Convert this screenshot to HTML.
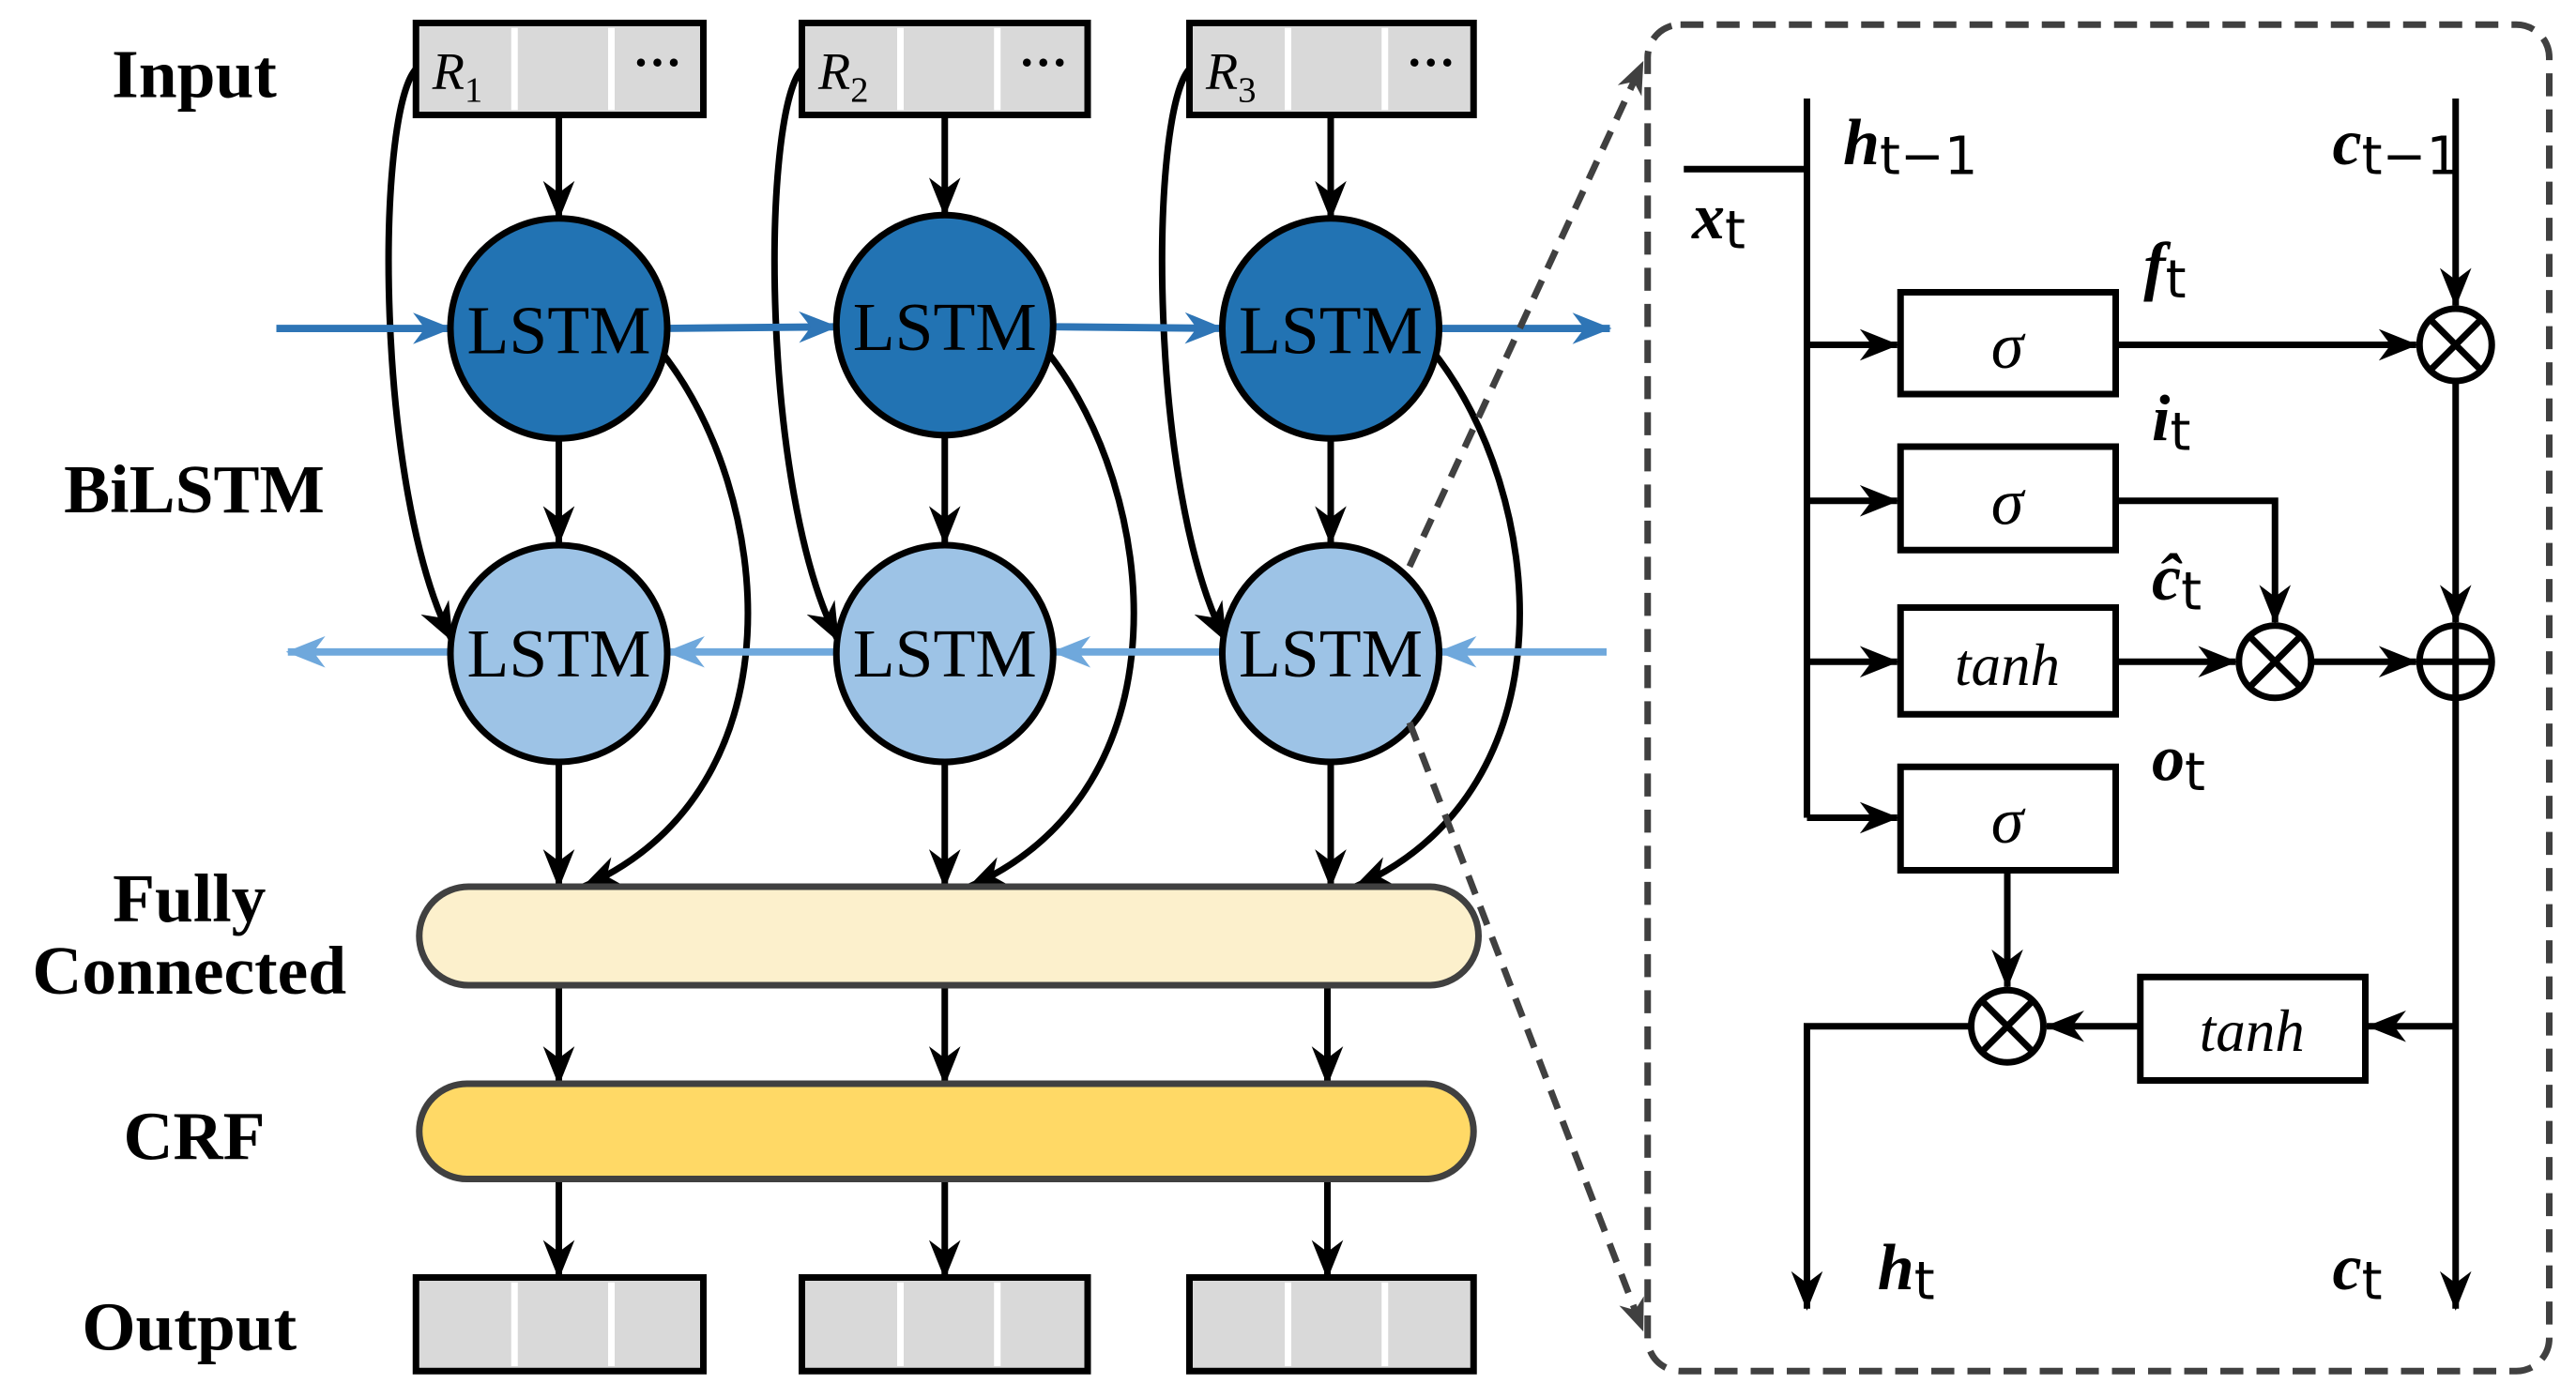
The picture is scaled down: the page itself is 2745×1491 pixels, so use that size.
<!DOCTYPE html>
<html><head><meta charset="utf-8"><style>
html,body{margin:0;padding:0;background:#fff;}
svg{display:block;}
text{font-family:"Liberation Serif",serif;}
</style></head><body>
<svg width="2745" height="1491" viewBox="0 0 1568 852" xmlns="http://www.w3.org/2000/svg">
<defs>
<marker id="a" viewBox="0 0 20 16" refX="19" refY="8" markerWidth="24" markerHeight="20" orient="auto" markerUnits="userSpaceOnUse"><path d="M0,0 L20,8 L0,16 L6,8 Z" fill="#000"/></marker>
<marker id="ab" viewBox="0 0 20 16" refX="19" refY="8" markerWidth="24" markerHeight="20" orient="auto" markerUnits="userSpaceOnUse"><path d="M0,0 L20,8 L0,16 L6,8 Z" fill="#2e75b6"/></marker>
<marker id="al" viewBox="0 0 20 16" refX="19" refY="8" markerWidth="24" markerHeight="20" orient="auto" markerUnits="userSpaceOnUse"><path d="M0,0 L20,8 L0,16 L6,8 Z" fill="#6fa8dc"/></marker>
<marker id="ad" viewBox="0 0 20 16" refX="19" refY="8" markerWidth="20" markerHeight="16" orient="auto" markerUnits="userSpaceOnUse"><path d="M0,0 L20,8 L0,16 L6,8 Z" fill="#404040"/></marker>
</defs>

<g font-weight="bold" font-size="42" text-anchor="middle" fill="#000">
<text x="118" y="59">Input</text>
<text x="118" y="312">BiLSTM</text>
<text x="115" y="561">Fully</text>
<text x="115" y="605">Connected</text>
<text x="118" y="706">CRF</text>
<text x="115" y="822">Output</text>
</g>

<g>
<g transform="translate(253,14)">
<rect x="0" y="0" width="175" height="56" fill="#d9d9d9" stroke="#000" stroke-width="4"/>
<line x1="60" y1="3" x2="60" y2="53" stroke="#fff" stroke-width="4"/>
<line x1="119" y1="3" x2="119" y2="53" stroke="#fff" stroke-width="4"/>
<text x="10" y="40" font-size="32" font-style="italic">R<tspan font-size="22" dy="8" font-style="normal">1</tspan></text>
<text x="147" y="34" font-size="30" text-anchor="middle" font-weight="bold">···</text>
</g>
<g transform="translate(488,14)">
<rect x="0" y="0" width="174" height="56" fill="#d9d9d9" stroke="#000" stroke-width="4"/>
<line x1="60" y1="3" x2="60" y2="53" stroke="#fff" stroke-width="4"/>
<line x1="119" y1="3" x2="119" y2="53" stroke="#fff" stroke-width="4"/>
<text x="10" y="40" font-size="32" font-style="italic">R<tspan font-size="22" dy="8" font-style="normal">2</tspan></text>
<text x="147" y="34" font-size="30" text-anchor="middle" font-weight="bold">···</text>
</g>
<g transform="translate(724,14)">
<rect x="0" y="0" width="173" height="56" fill="#d9d9d9" stroke="#000" stroke-width="4"/>
<line x1="60" y1="3" x2="60" y2="53" stroke="#fff" stroke-width="4"/>
<line x1="119" y1="3" x2="119" y2="53" stroke="#fff" stroke-width="4"/>
<text x="10" y="40" font-size="32" font-style="italic">R<tspan font-size="22" dy="8" font-style="normal">3</tspan></text>
<text x="147" y="34" font-size="30" text-anchor="middle" font-weight="bold">···</text>
</g>
</g>

<g>
<rect x="253" y="778" width="175" height="57" fill="#d9d9d9" stroke="#000" stroke-width="4"/>
<line x1="313" y1="781" x2="313" y2="832" stroke="#fff" stroke-width="4"/><line x1="372" y1="781" x2="372" y2="832" stroke="#fff" stroke-width="4"/>
<rect x="488" y="778" width="174" height="57" fill="#d9d9d9" stroke="#000" stroke-width="4"/>
<line x1="548" y1="781" x2="548" y2="832" stroke="#fff" stroke-width="4"/><line x1="607" y1="781" x2="607" y2="832" stroke="#fff" stroke-width="4"/>
<rect x="724" y="778" width="173" height="57" fill="#d9d9d9" stroke="#000" stroke-width="4"/>
<line x1="784" y1="781" x2="784" y2="832" stroke="#fff" stroke-width="4"/><line x1="843" y1="781" x2="843" y2="832" stroke="#fff" stroke-width="4"/>
</g>

<g stroke="#000" stroke-width="4" fill="none" marker-end="url(#a)">
<line x1="340" y1="72" x2="340" y2="133"/>
<line x1="575" y1="72" x2="575" y2="131"/>
<line x1="810" y1="72" x2="810" y2="133"/>
<line x1="340" y1="267" x2="340" y2="331"/>
<line x1="575" y1="265" x2="575" y2="331"/>
<line x1="810" y1="267" x2="810" y2="331"/>
<line x1="340" y1="465" x2="340" y2="540"/>
<line x1="575" y1="465" x2="575" y2="540"/>
<line x1="810" y1="465" x2="810" y2="540"/>
<line x1="340" y1="602" x2="340" y2="660"/>
<line x1="575" y1="602" x2="575" y2="660"/>
<line x1="808" y1="602" x2="808" y2="660"/>
<line x1="340" y1="720" x2="340" y2="778"/>
<line x1="575" y1="720" x2="575" y2="778"/>
<line x1="808" y1="720" x2="808" y2="778"/>
<path d="M253,42 C228,70 228,300 275,390"/>
<path d="M488,42 C463,70 463,300 510,390"/>
<path d="M724,42 C699,70 699,300 746,390"/>
<path d="M403,215 C470,300 490,480 355,540"/>
<path d="M638,215 C705,300 725,480 590,540"/>
<path d="M873,215 C940,300 960,480 825,540"/>
</g>

<g stroke="#2e75b6" stroke-width="4.5" fill="none" marker-end="url(#ab)">
<line x1="168" y1="200" x2="274" y2="200"/>
<line x1="405" y1="200" x2="509" y2="199"/>
<line x1="640" y1="199" x2="744" y2="200"/>
<line x1="875" y1="200" x2="980" y2="200"/>
</g>
<g stroke="#6fa8dc" stroke-width="4.5" fill="none" marker-end="url(#al)">
<line x1="275" y1="397" x2="175" y2="397"/>
<line x1="510" y1="397" x2="406" y2="397"/>
<line x1="745" y1="397" x2="641" y2="397"/>
<line x1="978" y1="397" x2="876" y2="397"/>
</g>

<g stroke="#000" stroke-width="4">
<ellipse cx="340" cy="200" rx="66" ry="67" fill="#2273b3"/>
<ellipse cx="575" cy="198" rx="66" ry="67" fill="#2273b3"/>
<ellipse cx="810" cy="200" rx="66" ry="67" fill="#2273b3"/>
<ellipse cx="340" cy="398" rx="66" ry="66" fill="#9dc3e6"/>
<ellipse cx="575" cy="398" rx="66" ry="66" fill="#9dc3e6"/>
<ellipse cx="810" cy="398" rx="66" ry="66" fill="#9dc3e6"/>
</g>
<g font-size="42" text-anchor="middle" fill="#000">
<text x="340" y="215" textLength="112" lengthAdjust="spacingAndGlyphs">LSTM</text><text x="575" y="213" textLength="112" lengthAdjust="spacingAndGlyphs">LSTM</text><text x="810" y="215" textLength="112" lengthAdjust="spacingAndGlyphs">LSTM</text>
<text x="340" y="412" textLength="112" lengthAdjust="spacingAndGlyphs">LSTM</text><text x="575" y="412" textLength="112" lengthAdjust="spacingAndGlyphs">LSTM</text><text x="810" y="412" textLength="112" lengthAdjust="spacingAndGlyphs">LSTM</text>
</g>

<rect x="255" y="540" width="645" height="60" rx="30" fill="#fcf0cc" stroke="#404040" stroke-width="4"/>
<rect x="255" y="660" width="642" height="58" rx="29" fill="#ffd966" stroke="#404040" stroke-width="4"/>

<g stroke="#404040" stroke-width="4" stroke-dasharray="12,8" fill="none" marker-end="url(#ad)">
<line x1="858" y1="345" x2="1000" y2="38"/>
<line x1="858" y1="440" x2="1000" y2="810"/>
</g>

<rect x="1003" y="15" width="549" height="820" rx="20" fill="none" stroke="#404040" stroke-width="4" stroke-dasharray="14,8"/>

<g stroke="#000" stroke-width="4" fill="none">
<line x1="1025" y1="103" x2="1100" y2="103"/>
<line x1="1100" y1="60" x2="1100" y2="498"/>
<line x1="1100" y1="210" x2="1155" y2="210" marker-end="url(#a)"/>
<line x1="1100" y1="305" x2="1155" y2="305" marker-end="url(#a)"/>
<line x1="1100" y1="403" x2="1155" y2="403" marker-end="url(#a)"/>
<line x1="1100" y1="498" x2="1155" y2="498" marker-end="url(#a)"/>
<line x1="1495" y1="60" x2="1495" y2="186" marker-end="url(#a)"/>
<line x1="1288" y1="210" x2="1471" y2="210" marker-end="url(#a)"/>
<polyline points="1288,305 1385,305 1385,379" marker-end="url(#a)"/>
<line x1="1288" y1="403" x2="1361" y2="403" marker-end="url(#a)"/>
<line x1="1407" y1="403" x2="1471" y2="403" marker-end="url(#a)"/>
<line x1="1495" y1="232" x2="1495" y2="379" marker-end="url(#a)"/>
<line x1="1495" y1="425" x2="1495" y2="797" marker-end="url(#a)"/>
<line x1="1495" y1="625" x2="1442" y2="625" marker-end="url(#a)"/>
<line x1="1303" y1="625" x2="1246" y2="625" marker-end="url(#a)"/>
<line x1="1222" y1="530" x2="1222" y2="601" marker-end="url(#a)"/>
<polyline points="1200,625 1100,625 1100,797" marker-end="url(#a)"/>
</g>

<g stroke="#000" stroke-width="4" fill="#fff">
<rect x="1157" y="178" width="131" height="62"/>
<rect x="1157" y="272" width="131" height="63"/>
<rect x="1157" y="370" width="131" height="65"/>
<rect x="1157" y="467" width="131" height="63"/>
<rect x="1303" y="595" width="137" height="63"/>
<circle cx="1495" cy="210" r="22"/>
<circle cx="1385" cy="403" r="22"/>
<circle cx="1495" cy="403" r="22"/>
<circle cx="1222" cy="625" r="22"/>
</g>
<g stroke="#000" stroke-width="4">
<line x1="1479" y1="194" x2="1511" y2="226"/><line x1="1511" y1="194" x2="1479" y2="226"/>
<line x1="1369" y1="387" x2="1401" y2="419"/><line x1="1401" y1="387" x2="1369" y2="419"/>
<line x1="1206" y1="609" x2="1238" y2="641"/><line x1="1238" y1="609" x2="1206" y2="641"/>
<line x1="1473" y1="403" x2="1517" y2="403"/><line x1="1495" y1="381" x2="1495" y2="425"/>
</g>

<g font-size="40" font-style="italic" text-anchor="middle" fill="#000" font-family="Liberation Serif, serif">
<text x="1222" y="224">σ</text>
<text x="1222" y="319">σ</text>
<text x="1222" y="417" font-family="DejaVu Sans, sans-serif" font-size="36">tanh</text>
<text x="1222" y="513">σ</text>
<text x="1371" y="640" font-family="DejaVu Sans, sans-serif" font-size="36">tanh</text>
</g>

<g font-size="40" font-weight="bold" font-style="italic" fill="#000">
<text x="1122" y="100">h<tspan font-style="normal" font-weight="normal" font-size="32" font-family="DejaVu Sans, sans-serif" dy="6">t−1</tspan></text>
<text x="1420" y="100">c<tspan font-style="normal" font-weight="normal" font-size="32" font-family="DejaVu Sans, sans-serif" dy="6">t−1</tspan></text>
<text x="1030" y="145">x<tspan font-style="normal" font-weight="normal" font-size="32" font-family="DejaVu Sans, sans-serif" dy="6">t</tspan></text>
<text x="1305" y="175">f<tspan font-style="normal" font-weight="normal" font-size="32" font-family="DejaVu Sans, sans-serif" dy="6">t</tspan></text>
<text x="1310" y="268">i<tspan font-style="normal" font-weight="normal" font-size="32" font-family="DejaVu Sans, sans-serif" dy="6">t</tspan></text>
<text x="1310" y="365">ĉ<tspan font-style="normal" font-weight="normal" font-size="32" font-family="DejaVu Sans, sans-serif" dy="6">t</tspan></text>
<text x="1310" y="475">o<tspan font-style="normal" font-weight="normal" font-size="32" font-family="DejaVu Sans, sans-serif" dy="6">t</tspan></text>
<text x="1143" y="785">h<tspan font-style="normal" font-weight="normal" font-size="32" font-family="DejaVu Sans, sans-serif" dy="6">t</tspan></text>
<text x="1420" y="785">c<tspan font-style="normal" font-weight="normal" font-size="32" font-family="DejaVu Sans, sans-serif" dy="6">t</tspan></text>
</g>
</svg>
</body></html>
